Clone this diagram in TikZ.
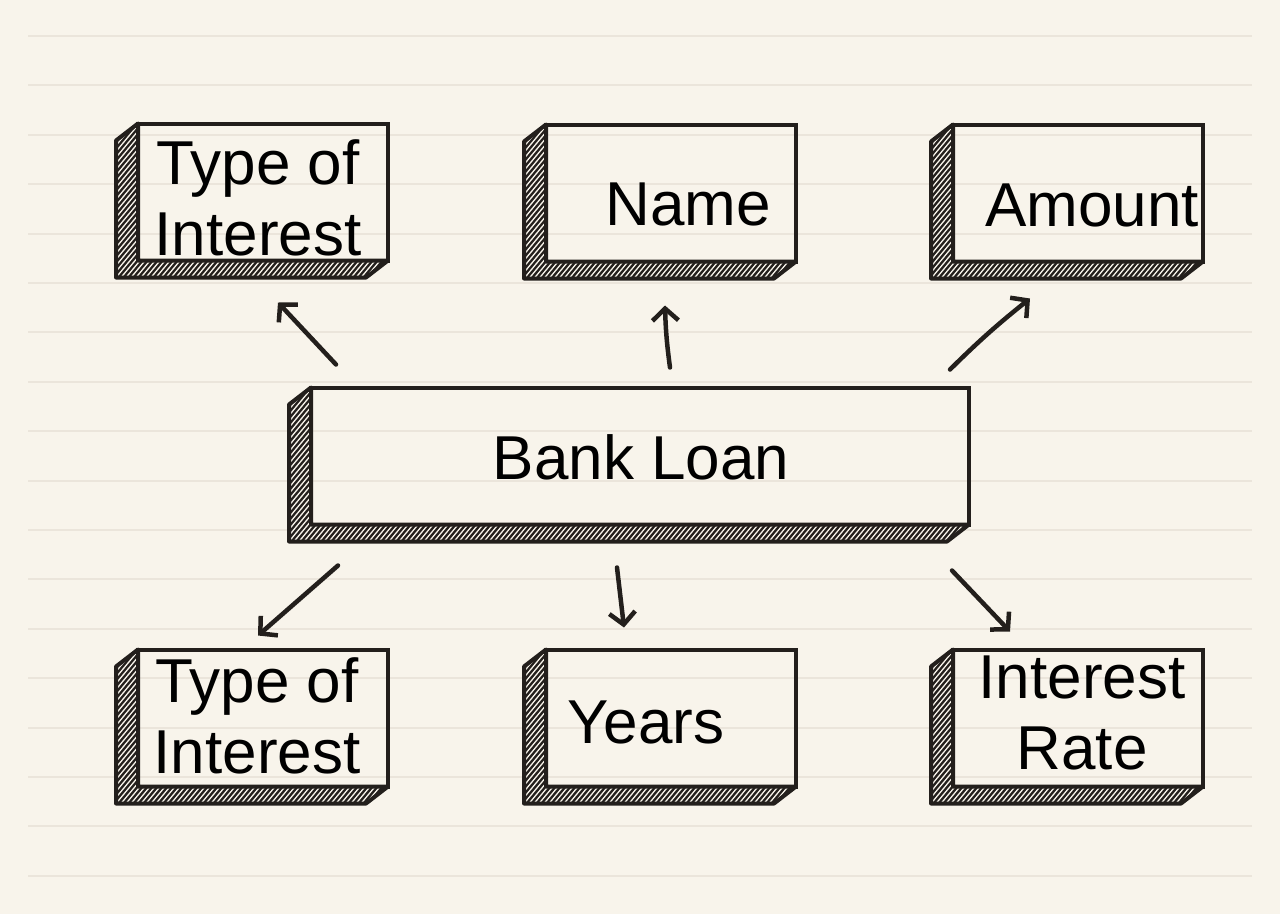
\documentclass[tikz,border=0pt]{standalone}
\usepackage{fontspec}
\setmainfont{Liberation Sans}
\usetikzlibrary{arrows.meta}

\definecolor{ink}{HTML}{231F1C}
\definecolor{papier}{HTML}{F8F4EB}
\definecolor{linie}{HTML}{EBE5DB}

\tikzset{
  kasten/.style={draw=ink, line width=4pt, minimum width=250, minimum height=137, inner sep=0, outer sep=0},
  kante/.style={fill=ink, draw=ink, line width=4pt, line join=round,
    path picture={\foreach \k in {-220,-215,...,720}
      \draw[papier, line width=1.3pt] ([xshift=\k]path picture bounding box.south west) -- ++(200,-240);}},
  txt/.style={font=\fontsize{62}{71}\selectfont, align=center, text depth=0pt, inner sep=0},
  pfeil/.style={draw=ink, line width=4.5pt, line cap=round, line join=round,
    -{Straight Barb[length=12pt,width=26pt,line width=4.5pt]}}
}

\begin{document}
\begin{tikzpicture}[x=1pt, y=-1pt]
	\useasboundingbox (0,0) rectangle (1280,914);
	\fill[papier] (0,0) rectangle (1280,914); % Papier
	\foreach \i in {0,...,17}
		\draw[linie, line width=2pt] (28,{36+49.4*\i}) -- (1252,{36+49.4*\i}); % Linien
	
	% Kaesten
	\node[kasten] (toi) at (263,192) {};
	\node[kasten] (name) at (671,193) {};
	\node[kasten] (amount) at (1078,193) {};
	\node[kasten, minimum width=658] (bank) at (640,456) {};
	\node[kasten] (toi2) at (263,718) {};
	\node[kasten] (years) at (671,718) {};
	\node[kasten] (rate) at (1078,718) {};
	
	\foreach \b in {toi,name,amount,bank,toi2,years,rate} % schraffierte Kante
		\filldraw[kante] (\b.north west) -- ++(-22,17) -- ([shift={(-22,17)}]\b.south west)
			-- ([shift={(-22,17)}]\b.south east) -- (\b.south east) -- (\b.south west) -- cycle;
	
	% Texte
	\node[txt] (toi-t) at ([shift={(-5,6)}]toi.center) {Type of\\Interest};
	\node[txt] (name-t) at ([shift={(17,11)}]name.center) {Name};
	\node[txt] (amount-t) at ([shift={(14,12)}]amount.center) {Amount};
	\node[txt] (bank-t) at ([shift={(1,1)}]bank.center) {Bank Loan};
	\node[txt] (toi2-t) at ([shift={(-6,-2)}]toi2.center) {Type of\\Interest};
	\node[txt] (years-t) at ([shift={(-25,4)}]years.center) {Years};
	\node[txt] (rate-t) at ([shift={(4,-5)}]rate.center) {Interest\\Rate};
	
	% Pfeile
	\draw[pfeil] ([shift={(25,-23)}]bank.north west) -- ([shift={(15,42)}]toi.south);
	\draw[pfeil] ([shift={(30,-20)}]bank.north) to[bend left=3] ([shift={(-6,44)}]name.south);
	\draw[pfeil] ([shift={(-19,-18)}]bank.north east) to[bend left=3] ([shift={(-48,37)}]amount.south);
	\draw[pfeil] ([shift={(27,41)}]bank.south west) -- ([shift={(-5,-14)}]toi2.north);
	\draw[pfeil] ([shift={(-23,43)}]bank.south) -- ([shift={(-47,-22)}]years.north);
	\draw[pfeil] ([shift={(-17,46)}]bank.south east) -- ([shift={(-68,-18)}]rate.north);
\end{tikzpicture}
\end{document}
